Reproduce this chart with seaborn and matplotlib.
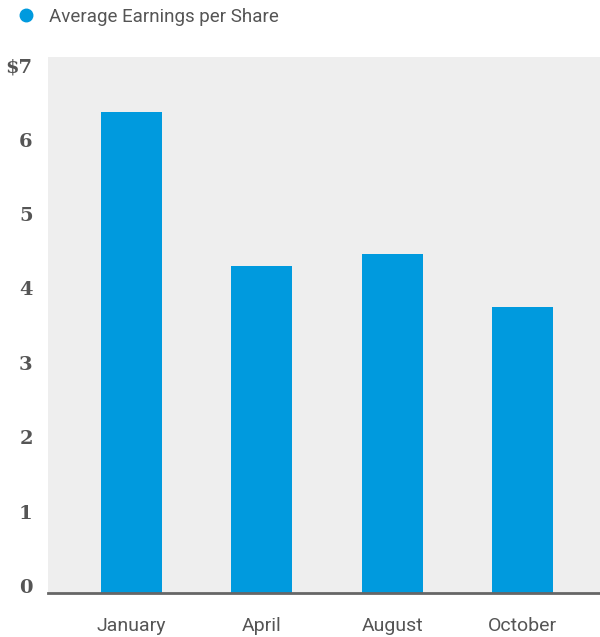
import matplotlib
matplotlib.use("Agg")
import matplotlib.pyplot as plt
import seaborn as sns
import pandas as pd
from matplotlib.lines import Line2D

months = ["January", "April", "August", "October"]
eps = [6.46, 4.40, 4.56, 3.84]
yticks = [0, 1, 2, 3, 4, 5, 6, 7]
ytick_labels = ["0", "1", "2", "3", "4", "5", "6", "$7"]
series_name = "Average Earnings per Share"

BLUE = "#009ADE"
GREY_BG = "#EEEEEE"
TEXT = "#555555"

sns.set_theme(style="white")
plt.rcParams["font.family"] = ["Roboto", "DejaVu Sans"]

df = pd.DataFrame({"month": months, "eps": eps})

fig = plt.figure(figsize=(6.0, 6.37), dpi=100)
ax = fig.add_axes([0.08, (637 - 593) / 637, 0.92, (593 - 57) / 637])
ax.set_facecolor(GREY_BG)

sns.barplot(data=df, x="month", y="eps", color=BLUE, saturation=1, width=0.468,
            linewidth=0, ax=ax)

ax.set_xlim(-0.641, 3.595)
ax.set_ylim(0, (593 - 57) / 74.4)
ax.set_yticks(yticks)
ax.set_yticklabels(ytick_labels, fontfamily=["DejaVu Serif"],
                   fontweight="bold", fontsize=14, color=TEXT, va="baseline")
ax.tick_params(axis="y", length=0, pad=11)
ax.tick_params(axis="x", length=0, pad=17, labelsize=14, labelcolor=TEXT)
ax.set_xlabel("")
ax.set_ylabel("")
for s in ["top", "right", "left"]:
    ax.spines[s].set_visible(False)
ax.spines["bottom"].set_color("#666666")
ax.spines["bottom"].set_linewidth(2)

handle = Line2D([], [], marker="o", linestyle="none", markersize=9,
                markerfacecolor=BLUE, markeredgecolor=BLUE)
fig.legend([handle], [series_name], loc="upper left", bbox_to_anchor=(0.005, 1.008),
           frameon=False, fontsize=13.5, labelcolor=TEXT, handletextpad=0.75,
           borderaxespad=0.3, handlelength=1.0)

fig.savefig("out.png", dpi=100)
